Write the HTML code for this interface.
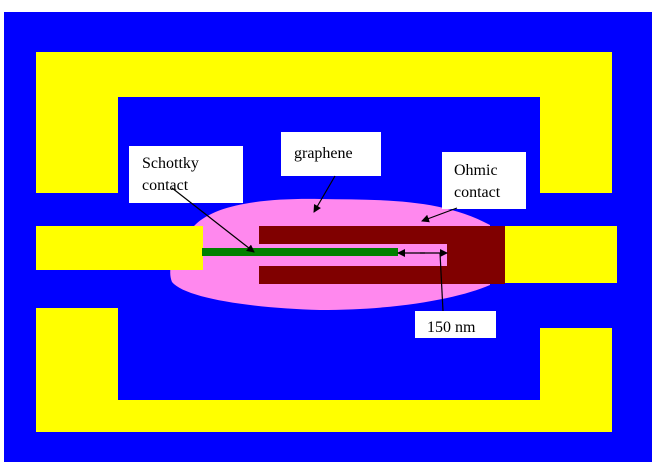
<!DOCTYPE html>
<html><head><style>
body{margin:0;width:656px;height:467px;background:#fff;overflow:hidden}
</style></head><body>
<svg width="656" height="467" viewBox="0 0 656 467" xmlns="http://www.w3.org/2000/svg" font-family="Liberation Serif, serif">
<defs><marker id="a" markerWidth="8" markerHeight="8" refX="7" refY="4" orient="auto" markerUnits="userSpaceOnUse"><path d="M0,0 L8,4 L0,8 z" fill="#000"/></marker></defs>
<rect x="4" y="12" width="648" height="450" fill="#0000ff"/>
<path d="M36,52 H612 V193 H540 V97 H118 V193 H36 Z" fill="#ffff00"/>
<path d="M36,308 H118 V400 H540 V328 H612 V432 H36 Z" fill="#ffff00"/>
<path d="M195,225 C215,205 260,198 320,199 C380,200 440,198 490,225 L490,285 C460,298 400,310 320,310 C250,308 185,298 172,282 C165,265 180,240 195,225 Z" fill="#ff88ee"/>
<rect x="36" y="226" width="167" height="44" fill="#ffff00"/>
<rect x="505" y="226" width="112" height="57" fill="#ffff00"/>
<path d="M259,226 H505 V284 H259 V266 H447 V244 H259 Z" fill="#800000"/>
<rect x="202" y="248" width="196" height="8" fill="#008000"/>
<rect x="129" y="146" width="114" height="57" fill="#fff"/>
<rect x="281" y="132" width="100" height="44" fill="#fff"/>
<rect x="442" y="152" width="84" height="57" fill="#fff"/>
<rect x="415" y="311" width="81" height="27" fill="#fff"/>
<text x="142" y="168" font-size="16">Schottky</text>
<text x="142" y="190" font-size="16">contact</text>
<text x="294" y="158" font-size="16">graphene</text>
<text x="454" y="175" font-size="16">Ohmic</text>
<text x="454" y="197" font-size="16">contact</text>
<text x="427" y="332" font-size="16">150 nm</text>
<g stroke="#000" stroke-width="1.2" fill="none">
<line x1="172" y1="188" x2="254" y2="252" marker-end="url(#a)"/>
<line x1="335" y1="176" x2="314" y2="212" marker-end="url(#a)"/>
<line x1="457" y1="208" x2="422" y2="221" marker-end="url(#a)"/>
<line x1="420" y1="253" x2="447" y2="253" marker-end="url(#a)"/>
<line x1="425" y1="253" x2="398" y2="253" marker-end="url(#a)"/>
<line x1="440" y1="253" x2="443" y2="311"/>
</g>
</svg>
</body></html>
